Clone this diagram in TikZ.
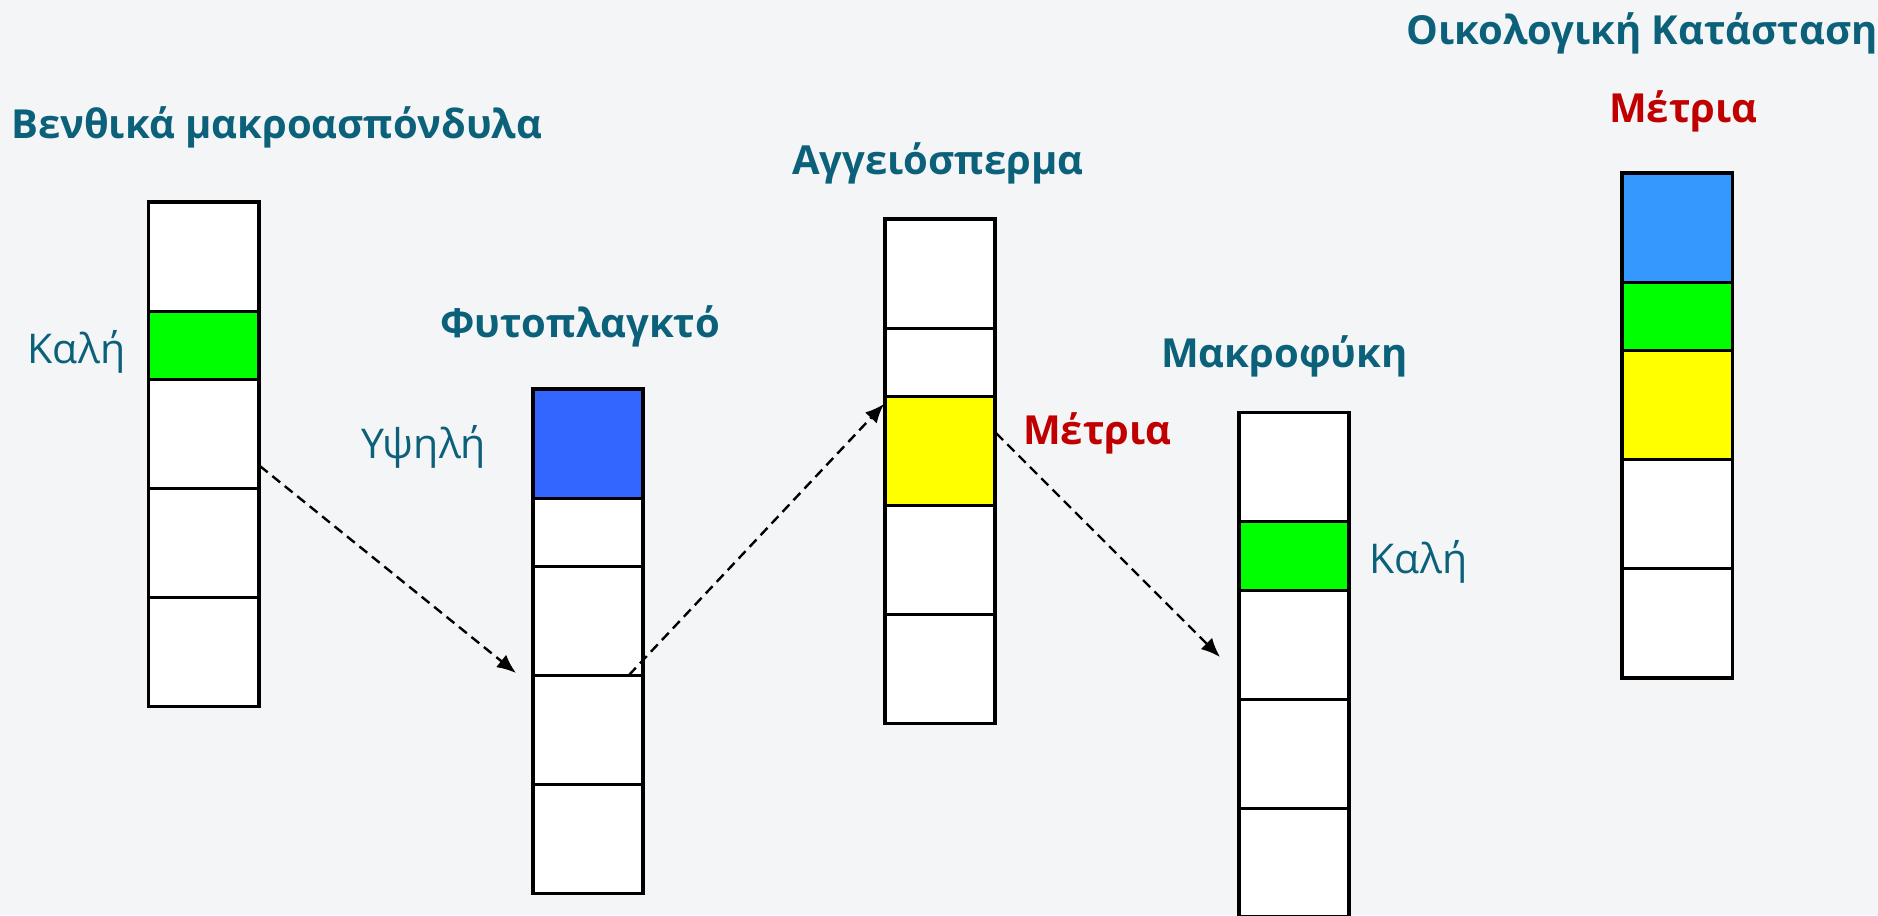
\documentclass[tikz,border=0pt]{standalone}
\usepackage{fontspec}
\setmainfont{Open Sans}
\usetikzlibrary{arrows.meta}
\definecolor{bgc}{RGB}{244,245,246}
\definecolor{tealtxt}{RGB}{11,96,122}
\definecolor{redtxt}{RGB}{192,0,0}
\definecolor{gbar}{RGB}{0,255,0}
\definecolor{ybar}{RGB}{255,255,0}
\definecolor{bdark}{RGB}{51,102,255}
\definecolor{blight}{RGB}{51,153,255}
\tikzset{
  seg/.style={draw=black,line width=3pt,inner sep=0pt,outer sep=0pt,minimum width=110.5pt,anchor=north west},
  frame/.style={draw=black,line width=3.8pt},
  title/.style={font=\bfseries\fontsize{40}{46}\selectfont,text=tealtxt,inner sep=0pt,anchor=base west},
  lbl/.style={font=\fontsize{41}{46}\selectfont,text=tealtxt,inner sep=0pt,anchor=base west},
  redlbl/.style={font=\bfseries\fontsize{40}{46}\selectfont,text=redtxt,inner sep=0pt,anchor=base west},
  link/.style={draw=black,line width=2.4pt,dash pattern=on 10pt off 6pt,-{Latex[length=19pt,width=16pt]}}
}
\newcommand\drawcolumn[6]{%
  \node[seg,minimum height=109pt,fill=#4] (#1-1) at (#2,#3) {};
  \node[seg,minimum height=68.5pt,fill=#5] (#1-2) at (#1-1.south west) {};
  \node[seg,minimum height=109pt,fill=#6] (#1-3) at (#1-2.south west) {};
  \node[seg,minimum height=109pt,fill=white] (#1-4) at (#1-3.south west) {};
  \node[seg,minimum height=109pt,fill=white] (#1-5) at (#1-4.south west) {};
  \draw[frame] (#1-1.north west) rectangle (#1-5.south east);
}
\begin{document}
\begin{tikzpicture}[x=1pt,y=-1pt]
\useasboundingbox (0,0) rectangle (1878,915);
\fill[bgc] (0,0) rectangle (1878,915);

\drawcolumn{c1}{148.5}{202}{white}{gbar}{white}
\drawcolumn{c2}{532.6}{389}{bdark}{white}{white}
\drawcolumn{c3}{884.8}{219}{white}{white}{ybar}
\drawcolumn{c4}{1238.7}{412.5}{white}{gbar}{white}
\drawcolumn{c5}{1622}{173.3}{blight}{gbar}{ybar}

\node[title] (t1) at (11,139) {Βενθικά μακροασπόνδυλα};
\node[lbl] (l1) at (27,363) {Καλή};
\node[title] (t2) at (440,337) {Φυτοπλαγκτό};
\node[lbl] (l2) at (361,458) {Υψηλή};
\node[title] (t3) at (792,174) {Αγγειόσπερμα};
\node[redlbl] (l3) at (1023,444) {Μέτρια};
\node[title] (t4) at (1161,367) {Μακροφύκη};
\node[lbl] (l4) at (1369,573) {Καλή};
\node[title] (t5) at (1406,45) {Οικολογική Κατάσταση};
\node[redlbl] (l5) at (1609,123) {Μέτρια};

\coordinate (a1s) at (259.9,466);
\coordinate (a1e) at (516,673);
\coordinate (a2s) at (629,675);
\coordinate (a2e) at (884,404);
\coordinate (a3s) at (996,433);
\coordinate (a3e) at (1220,657);
\draw[link] (a1s) -- (a1e);
\draw[link] (a2s) -- (a2e);
\draw[link] (a3s) -- (a3e);
\end{tikzpicture}
\end{document}
